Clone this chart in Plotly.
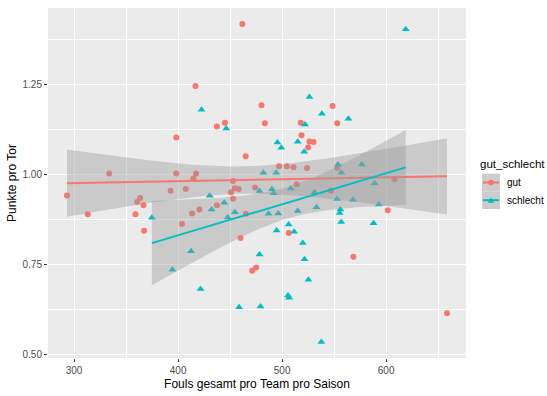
import numpy as np
import plotly.graph_objects as go

# ---------------- data ----------------
gut_fouls = [461.8, 416.7, 480.2, 548.5, 437.3, 445.0, 483.4, 517.9, 553.0, 518.6,
             526.3, 530.2, 525.0, 465.0, 497.0, 504.6, 511.0, 524.0, 553.0, 417.3,
             414.8, 452.8, 407.4, 454.5, 458.3, 450.9, 474.0, 514.0, 608.0, 546.9,
             452.8, 413.4, 420.6, 437.3, 403.8, 465.1, 460.0, 506.3, 601.5, 568.5,
             471.2, 475.1, 293.2, 313.2, 359.0, 360.6, 363.5, 366.7, 367.3, 392.8,
             398.3, 333.8, 398.3, 658.5]
gut_punkte = [1.417, 1.245, 1.191, 1.189, 1.132, 1.143, 1.141, 1.143, 1.141, 1.108,
              1.091, 1.089, 1.074, 1.050, 1.022, 1.022, 1.019, 1.017, 1.017, 1.002,
              0.988, 0.981, 0.959, 0.961, 0.959, 0.950, 0.963, 0.972, 0.986, 0.954,
              0.932, 0.891, 0.902, 0.914, 0.862, 0.890, 0.823, 0.837, 0.900, 0.771,
              0.732, 0.741, 0.941, 0.889, 0.889, 0.923, 0.934, 0.914, 0.843, 0.954,
              1.102, 1.002, 1.002, 0.614]

schlecht_fouls = [618.8, 526.3, 422.5, 538.2, 563.7, 522.0, 446.3, 495.4, 515.0, 499.2,
                  521.2, 553.7, 576.6, 482.0, 494.3, 557.0, 588.9, 478.2, 490.2, 491.8,
                  508.2, 531.1, 430.4, 552.8, 568.2, 432.2, 444.4, 454.5, 447.7, 486.9,
                  496.3, 515.0, 533.1, 556.0, 555.3, 593.0, 556.8, 587.9, 506.3, 494.7,
                  511.5, 519.9, 521.5, 478.2, 412.5, 421.6, 525.3, 505.7, 506.7, 458.6,
                  479.2, 537.7, 374.8, 394.5]
schlecht_punkte = [1.402, 1.214, 1.179, 1.168, 1.154, 1.138, 1.127, 1.088, 1.090, 1.073,
                   1.062, 1.027, 1.027, 1.004, 1.004, 1.004, 0.975, 0.953, 0.958, 0.947,
                   0.960, 0.950, 0.940, 0.931, 0.929, 0.902, 0.921, 0.894, 0.880, 0.890,
                   0.891, 0.898, 0.908, 0.902, 0.892, 0.916, 0.867, 0.864, 0.860, 0.844,
                   0.840, 0.809, 0.764, 0.777, 0.786, 0.681, 0.707, 0.663, 0.657, 0.631,
                   0.633, 0.534, 0.879, 0.735]

group_names = ["gut", "schlecht"]
colors = ["#F8766D", "#00BFC4"]
symbols = ["circle", "triangle-up"]
x_ticks = [300, 400, 500, 600]
y_ticks = [0.50, 0.75, 1.00, 1.25]

x_title = "Fouls gesamt pro Team pro Saison"
y_title = "Punkte pro Tor"
legend_title = "gut_schlecht"

FONT = "Liberation Sans, Arial, sans-serif"


def t_quantile(df, z=1.959964):
    g1 = (z**3 + z) / 4
    g2 = (5 * z**5 + 16 * z**3 + 3 * z) / 96
    g3 = (3 * z**7 + 19 * z**5 + 17 * z**3 - 15 * z) / 384
    return z + g1 / df + g2 / df**2 + g3 / df**3


def lm_smooth(x, y, n=80):
    x = np.asarray(x, float)
    y = np.asarray(y, float)
    b, a = np.polyfit(x, y, 1)
    res = y - (a + b * x)
    dfree = len(x) - 2
    s = np.sqrt(np.sum(res**2) / dfree)
    xbar = x.mean()
    sxx = np.sum((x - xbar) ** 2)
    xs = np.linspace(x.min(), x.max(), n)
    fit = a + b * xs
    se = s * np.sqrt(1 / len(x) + (xs - xbar) ** 2 / sxx)
    t = t_quantile(dfree)
    return xs, fit, fit - t * se, fit + t * se


groups = [(gut_fouls, gut_punkte), (schlecht_fouls, schlecht_punkte)]

fig = go.Figure()

# points
for (gx, gy), name, col, sym in zip(groups, group_names, colors, symbols):
    fig.add_trace(go.Scatter(
        x=gx, y=gy, mode="markers", showlegend=False,
        marker=dict(color=col, symbol=sym, size=6 if sym == "circle" else 7,
                    line=dict(width=0)),
        hoverinfo="skip"))

# smoothers (ribbon then line, per group)
for (gx, gy), name, col in zip(groups, group_names, colors):
    xs, fit, lo, hi = lm_smooth(gx, gy)
    fig.add_trace(go.Scatter(
        x=np.concatenate([xs, xs[::-1]]), y=np.concatenate([hi, lo[::-1]]),
        fill="toself", fillcolor="rgba(153,153,153,0.4)", mode="lines",
        line=dict(width=0), showlegend=False, hoverinfo="skip"))
    fig.add_trace(go.Scatter(
        x=xs, y=fit, mode="lines", line=dict(color=col, width=2),
        showlegend=False, hoverinfo="skip"))

allx = np.array(gut_fouls + schlecht_fouls)
ally = np.array(gut_punkte + schlecht_punkte)
xr = [allx.min() - 0.05 * np.ptp(allx), allx.max() + 0.05 * np.ptp(allx)]
yr = [ally.min() - 0.05 * np.ptp(ally), ally.max() + 0.05 * np.ptp(ally)]

W, H = 547, 396
L, R, T, B = 48, 81, 8, 31
PW, PH = W - L - R, H - T - B


def px(xp):
    return (xp - L) / PW


def py(yp):
    return 1 - (yp - T) / PH


# ---------------- manual ggplot-style legend ----------------
shapes = []
annotations = []
KX0, KX1 = 482, 500
KEY_H = 18
KEY_TOP = 177
annotations.append(dict(
    text=legend_title, x=px(478), y=py(167), xref="paper", yref="paper",
    xanchor="left", yanchor="middle", showarrow=False,
    font=dict(family=FONT, size=11.5, color="black")))
for i, (name, col, sym) in enumerate(zip(group_names, colors, symbols)):
    top = KEY_TOP + i * KEY_H
    cy = top + KEY_H / 2
    shapes.append(dict(type="rect", xref="paper", yref="paper",
                       x0=px(KX0), x1=px(KX1), y0=py(top + KEY_H), y1=py(top),
                       fillcolor="#CCCCCC", line=dict(width=0), layer="above"))
    shapes.append(dict(type="line", xref="paper", yref="paper",
                       x0=px(KX0 + 1), x1=px(KX1 - 1), y0=py(cy), y1=py(cy),
                       line=dict(color=col, width=2), layer="above"))
    cx = (KX0 + KX1) / 2
    if sym == "circle":
        r = 2.8
        shapes.append(dict(type="circle", xref="paper", yref="paper",
                           x0=px(cx - r), x1=px(cx + r), y0=py(cy + r), y1=py(cy - r),
                           fillcolor=col, line=dict(width=0), layer="above"))
    else:
        s = 3.3
        path = (f"M {px(cx - s)},{py(cy + s * 0.8)} L {px(cx + s)},{py(cy + s * 0.8)} "
                f"L {px(cx)},{py(cy - s * 0.9)} Z")
        shapes.append(dict(type="path", xref="paper", yref="paper", path=path,
                           fillcolor=col, line=dict(width=0), layer="above"))
    annotations.append(dict(
        text=name, x=px(505), y=py(cy), xref="paper", yref="paper",
        xanchor="left", yanchor="middle", showarrow=False,
        font=dict(family=FONT, size=10, color="black")))

axis_common = dict(
    showline=False, zeroline=False, gridcolor="white", gridwidth=1.1,
    ticks="outside", ticklen=3, tickcolor="#333333", tickwidth=1,
    tickfont=dict(family=FONT, size=10, color="#4D4D4D"),
)

fig.update_layout(
    width=W, height=H,
    margin=dict(l=L, r=R, t=T, b=B),
    paper_bgcolor="white", plot_bgcolor="#EBEBEB",
    font=dict(family=FONT, color="black"),
    showlegend=False,
    shapes=shapes, annotations=annotations,
    xaxis=dict(range=xr, tickvals=x_ticks, ticktext=[str(v) for v in x_ticks],
               minor=dict(dtick=50, tick0=0, gridcolor="white", gridwidth=0.5,
                          showgrid=True, ticks=""),
               title=dict(text=x_title, font=dict(family=FONT, size=12),
                          standoff=4),
               **axis_common),
    yaxis=dict(range=yr, tickvals=y_ticks, ticktext=[f"{v:.2f}" for v in y_ticks],
               minor=dict(dtick=0.125, tick0=0, gridcolor="white", gridwidth=0.5,
                          showgrid=True, ticks=""),
               title=dict(text=y_title, font=dict(family=FONT, size=12),
                          standoff=3),
               **axis_common),
)

fig.write_html("out.html")
